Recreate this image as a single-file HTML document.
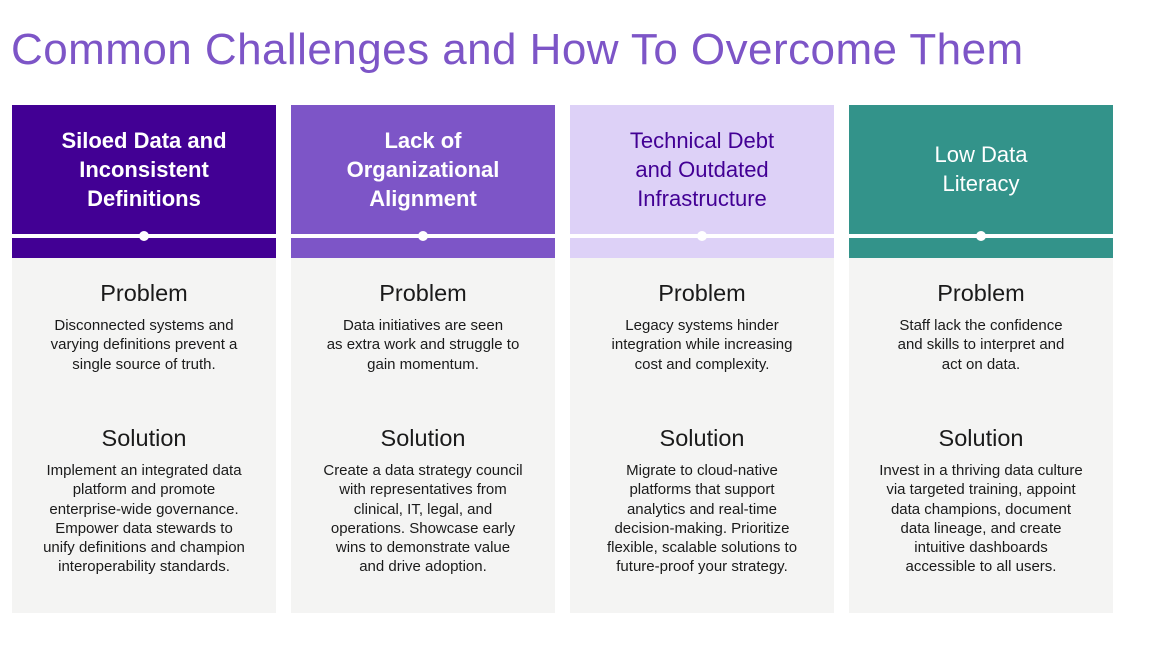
<!DOCTYPE html>
<html><head><meta charset="utf-8"><style>
body{margin:0;width:1152px;height:656px;background:#fff;position:relative;overflow:hidden;font-family:"Liberation Sans",sans-serif;}
.title{position:absolute;left:11px;top:25px;font-size:44px;color:#7d55c7;letter-spacing:0.45px;white-space:nowrap;}
.col{position:absolute;top:105px;width:264px;height:508px;}
.hd{position:absolute;left:0;top:0;width:100%;height:153px;}
.hd .t{position:absolute;left:0;right:0;text-align:center;font-size:22px;line-height:29px;font-weight:bold;}
.line{position:absolute;left:0;right:0;top:129px;height:4px;background:#fff;}
.dot{position:absolute;left:127px;top:126px;width:10px;height:10px;border-radius:50%;background:#fff;}
.bd{position:absolute;left:0;top:153px;width:100%;height:355px;background:#f4f4f3;text-align:center;color:#1a1a1a;}
.h{position:absolute;left:0;right:0;font-size:23.5px;}
.p{position:absolute;left:0;right:0;font-size:15px;line-height:19.3px;}
</style></head><body>
<div class="title">Common Challenges and How To Overcome Them</div>

<div class="col" style="left:12px">
<div class="hd" style="background:#420094;color:#fff"><div class="t" style="top:21px">Siloed Data and<br>Inconsistent<br>Definitions</div><div class="line"></div><div class="dot"></div></div>
<div class="bd"><div class="h" style="top:22px">Problem</div><div class="p" style="top:58px">Disconnected systems and<br>varying definitions prevent a<br>single source of truth.</div>
<div class="h" style="top:167px">Solution</div><div class="p" style="top:203px">Implement an integrated data<br>platform and promote<br>enterprise-wide governance.<br>Empower data stewards to<br>unify definitions and champion<br>interoperability standards.</div></div></div>

<div class="col" style="left:291px">
<div class="hd" style="background:#7d55c7;color:#fff"><div class="t" style="top:21px">Lack of<br>Organizational<br>Alignment</div><div class="line"></div><div class="dot"></div></div>
<div class="bd"><div class="h" style="top:22px">Problem</div><div class="p" style="top:58px">Data initiatives are seen<br>as extra work and struggle to<br>gain momentum.</div>
<div class="h" style="top:167px">Solution</div><div class="p" style="top:203px">Create a data strategy council<br>with representatives from<br>clinical, IT, legal, and<br>operations. Showcase early<br>wins to demonstrate value<br>and drive adoption.</div></div></div>

<div class="col" style="left:570px">
<div class="hd" style="background:#ddd1f7;color:#420094"><div class="t" style="top:21px;font-weight:normal">Technical Debt<br>and Outdated<br>Infrastructure</div><div class="line"></div><div class="dot"></div></div>
<div class="bd"><div class="h" style="top:22px">Problem</div><div class="p" style="top:58px">Legacy systems hinder<br>integration while increasing<br>cost and complexity.</div>
<div class="h" style="top:167px">Solution</div><div class="p" style="top:203px">Migrate to cloud-native<br>platforms that support<br>analytics and real-time<br>decision-making. Prioritize<br>flexible, scalable solutions to<br>future-proof your strategy.</div></div></div>

<div class="col" style="left:849px">
<div class="hd" style="background:#33938a;color:#fff"><div class="t" style="top:35px;font-weight:normal">Low Data<br>Literacy</div><div class="line"></div><div class="dot"></div></div>
<div class="bd"><div class="h" style="top:22px">Problem</div><div class="p" style="top:58px">Staff lack the confidence<br>and skills to interpret and<br>act on data.</div>
<div class="h" style="top:167px">Solution</div><div class="p" style="top:203px">Invest in a thriving data culture<br>via targeted training, appoint<br>data champions, document<br>data lineage, and create<br>intuitive dashboards<br>accessible to all users.</div></div></div>
</body></html>
